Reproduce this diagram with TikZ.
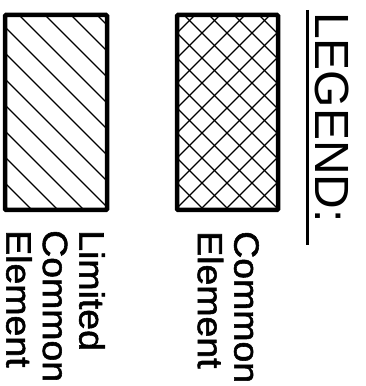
\documentclass[tikz,border=0pt]{standalone}
\usepackage{fontspec}
\setmainfont{Liberation Sans}
\newfontfamily\cadfont{Liberation Sans}[FakeBold=1.6, FakeStretch=1.07]

\begin{document}
\begin{tikzpicture}[x=1pt, y=1pt,
    swatch/.style={line width=4.5pt, rounded corners=1pt},
    hatch/.style={line width=1.3pt},
    legtext/.style={rotate=-90, inner sep=0pt, align=left,
      font=\cadfont\fontsize{35}{36.5}\selectfont}]
        \useasboundingbox (0,0) rectangle (366,386);

        % Limited common element
        \begin{scope}
            \clip (5,176) rectangle (107,371);
            \foreach \k in {-8,...,5}
                \draw[hatch] (-95,459+26*\k) -- ++(300,-300);
        \end{scope}
        \draw[swatch] (5,176) rectangle (107,371);
        \node[legtext, anchor=north west] (limited) at (105,156) {Limited\\Common\\Element};

        % Common element
        \begin{scope}
            \clip (177,176) rectangle (278,371);
            \foreach \k in {-12,...,12} {
                \draw[hatch] (77,453+25*\k) -- ++(300,-300);
                \draw[hatch] (77,253+25*\k) -- ++(300,300);
            }
        \end{scope}
        \draw[swatch] (177,176) rectangle (278,371);
        \node[legtext, anchor=north west] (common) at (259,155) {Common\\Element};

        % Title
        \node[rotate=-90, anchor=base west, inner sep=0pt,
            font=\fontsize{48}{48}\selectfont] (legend) at (315,374) {LEGEND:};
        \draw[line width=3pt] (307,376) -- (307,141);
    \end{tikzpicture}
\end{document}
